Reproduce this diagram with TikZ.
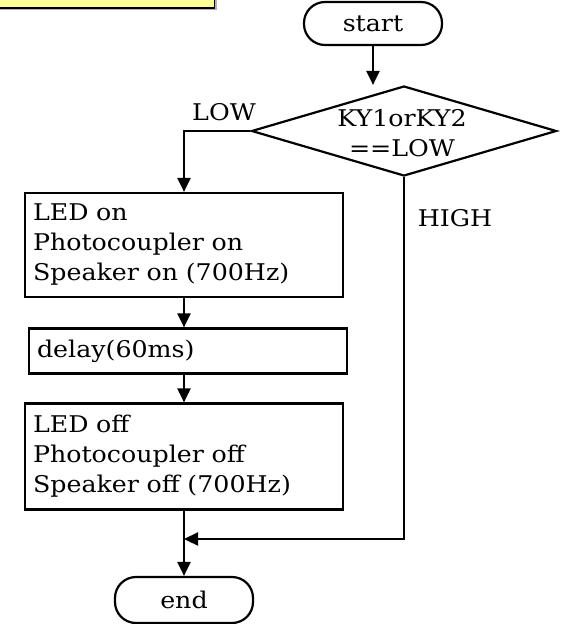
\documentclass[tikz,border=0pt]{standalone}
\usepackage{fontspec}
\setmainfont[FakeStretch=1.1]{DejaVu Serif}
\usetikzlibrary{shapes.geometric, arrows.meta, positioning}
\definecolor{notefill}{RGB}{255,255,153}
\tikzset{
  base/.style={font=\fontsize{23}{30}\selectfont, line width=2.2pt},
  terminal/.style={base, draw, rounded corners=21pt, minimum width=138pt, minimum height=43pt, inner sep=0pt},
  process/.style={base, draw, align=left, text width=302pt, inner xsep=8pt, inner ysep=0pt, minimum height=104pt},
  decision/.style={base, draw, diamond, minimum width=305pt, minimum height=90pt, inner sep=0pt},
  flow/.style={line width=2.2pt, -{Triangle[length=14pt, width=13pt]}},
}
\begin{document}
\begin{tikzpicture}[x=1pt, y=-1pt]
  \clip (0,0) rectangle (565,624);

  % Note (coupee)
  \fill[gray!60] (-5,-5) rectangle (216.5,10);
  \filldraw[fill=notefill, draw=black, line width=1.4pt] (-5,-5) rectangle (214.5,8);

  % Blocs
  \node[terminal] (start) at (373,23.5) {start};
  \node[decision] (cond) at (404,131) {};
  \node[base, align=center] (condtxt) at (402,133) {KY1orKY2\\==LOW};
  \node[process] (on) at (184,245) {LED on\\Photocoupler on\\Speaker on (700Hz)};
  \node[process, minimum height=45pt] (wait) at (188,351) {delay(60ms)};
  \node[process, minimum height=106pt] (off) at (184,456.5) {LED off\\Photocoupler off\\Speaker off (700Hz)};
  \node[terminal, minimum height=46pt] (stop) at (184,600) {end};

  % Etiquettes
  \node[base] (low) at (224,112) {LOW};
  \node[base] (high) at (455,218) {HIGH};
  \coordinate (merge) at (184,539);

  % Liaisons
  \draw[flow] (start) -- (start |- cond.north);
  \draw[flow] (cond.west) -| (on.north);
  \draw[flow] (on.south) -- (on.south |- wait.north);
  \draw[flow] (wait.south -| off.north) -- (off.north);
  \draw[flow] (off) -- (stop);
  \draw[flow] (cond.south) |- (merge);

\end{tikzpicture}
\end{document}
